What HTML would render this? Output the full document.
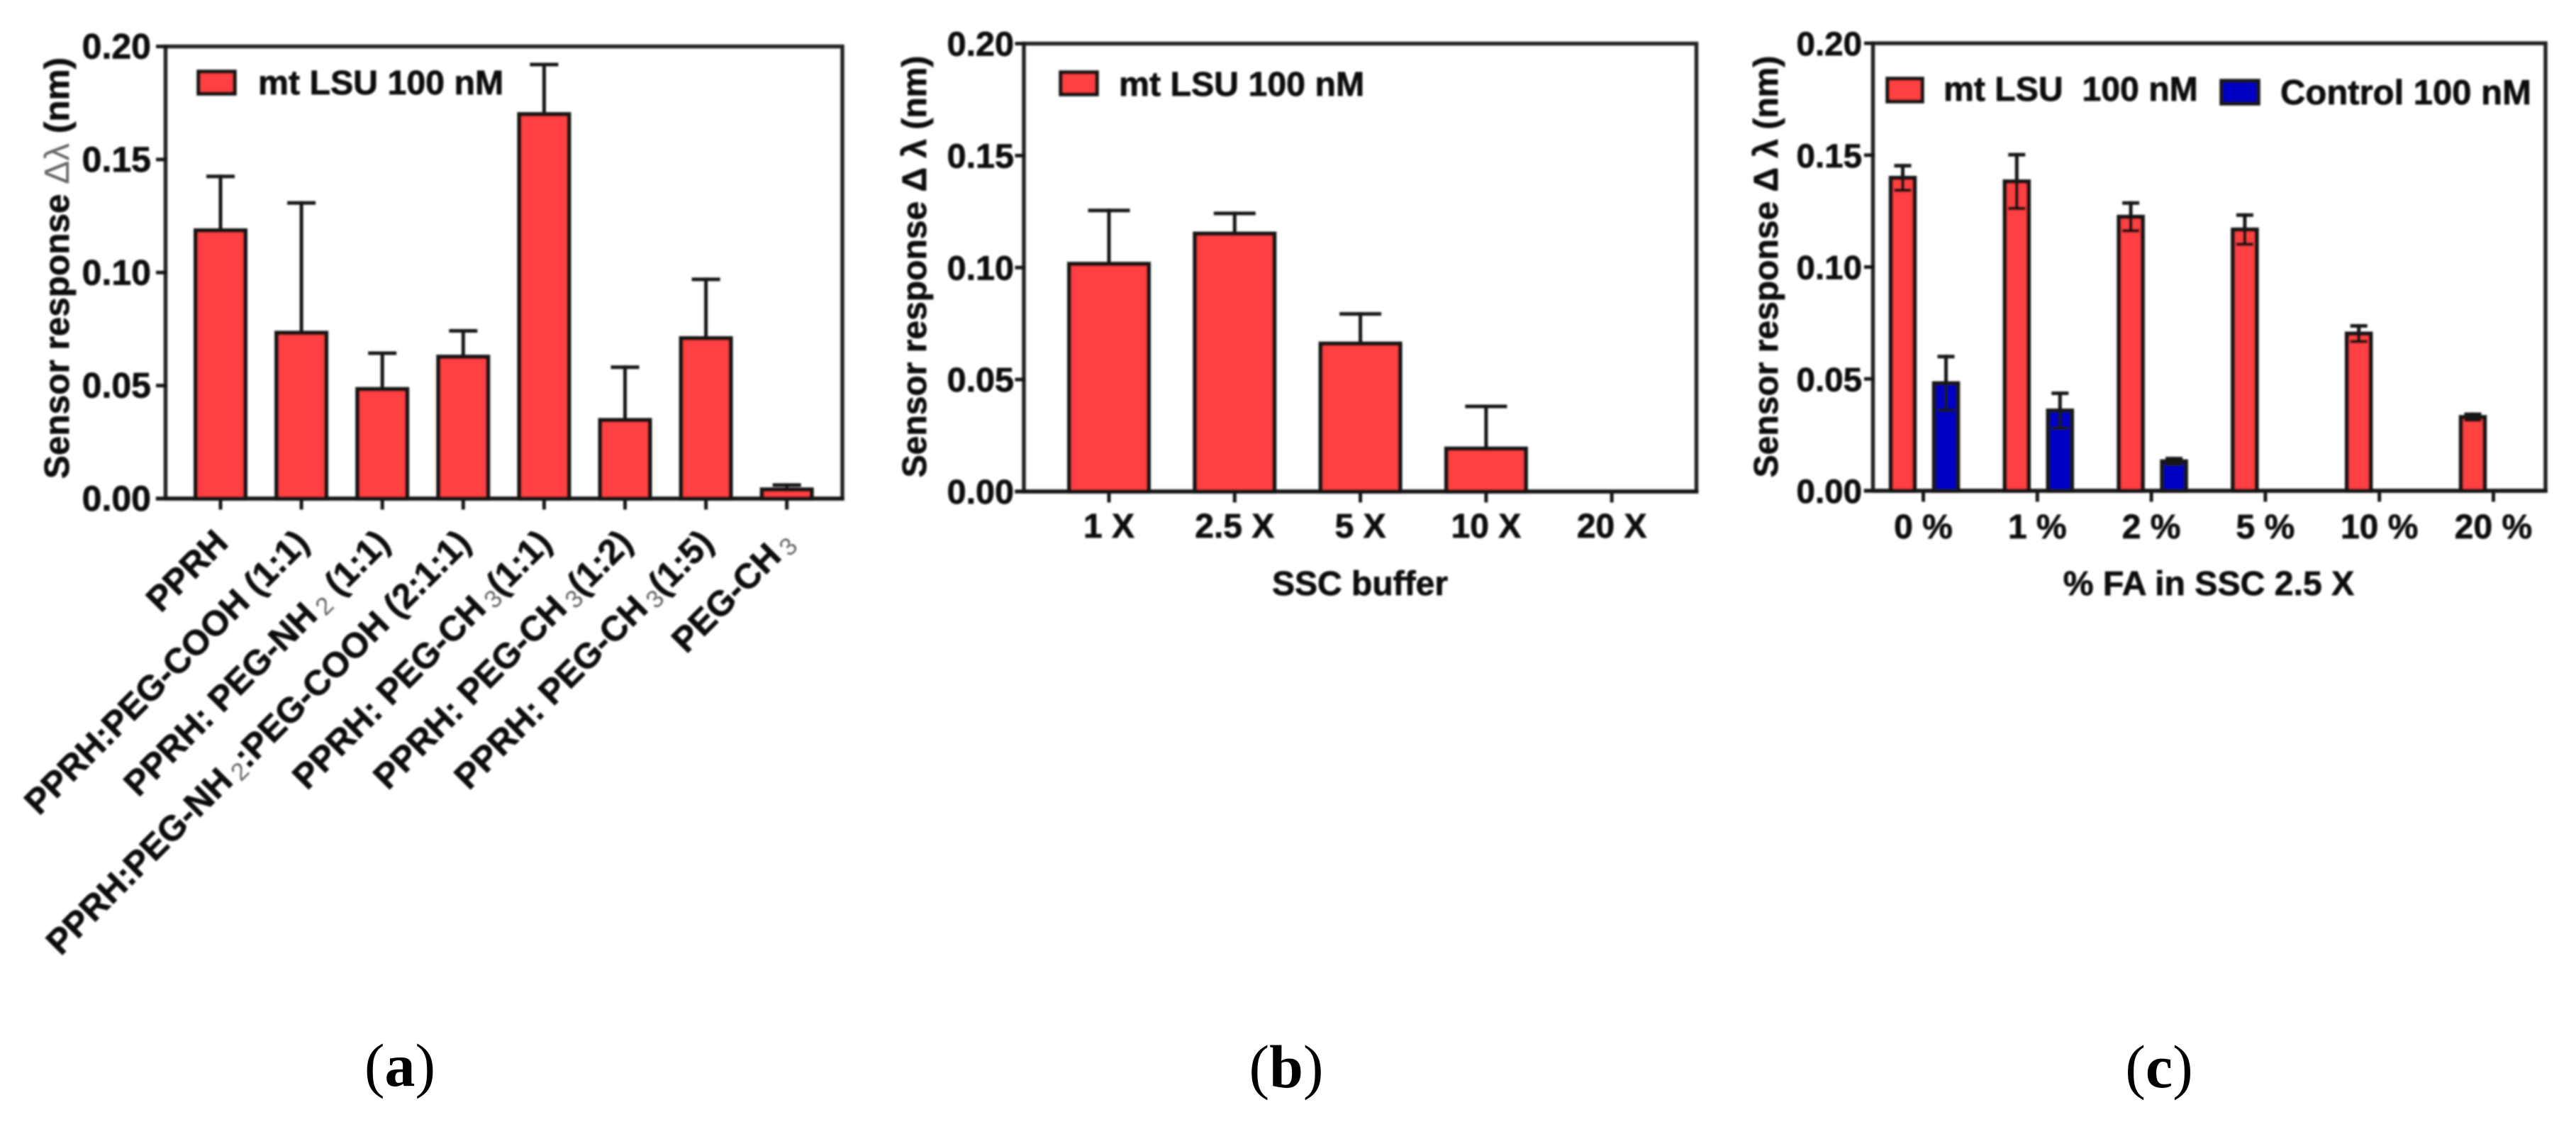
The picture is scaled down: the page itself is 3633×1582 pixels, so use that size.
<!DOCTYPE html>
<html lang="en">
<head>
<meta charset="utf-8">
<title>Sensor response bar charts</title>
<style>
  html, body { margin: 0; padding: 0; background: #fff; }
  svg { display: block; }
  text { font-family: "Liberation Sans", sans-serif; font-weight: bold; fill: #0a0a0a; stroke: #0a0a0a; stroke-width: 0.7px; }
  .panel-label { font-family: "Liberation Serif", serif; font-weight: normal; font-size: 86px; fill: #000; stroke: none; }
</style>
</head>
<body>
<svg id="figure" xmlns="http://www.w3.org/2000/svg" width="3633" height="1582" viewBox="0 0 3633 1582">
  <defs>
    <filter id="soft" filterUnits="userSpaceOnUse" x="0" y="0" width="3633" height="1582">
      <feGaussianBlur stdDeviation="1.2"/>
    </filter>
  </defs>
  <rect x="0" y="0" width="3633" height="1582" fill="#ffffff"/>

  <g id="chart-a" filter="url(#soft)">
    <text transform="translate(97,378) rotate(-90)" text-anchor="middle" font-size="49.5">Sensor response <tspan style="font-weight:normal;fill:#666;stroke:none">Δλ</tspan> (nm)</text>
  </g>
  <g id="chart-b" filter="url(#soft)">
    <text transform="translate(1306,376) rotate(-90)" text-anchor="middle" font-size="48">Sensor response Δ λ (nm)</text>
    <text x="1918" y="839" text-anchor="middle" font-size="48">SSC buffer</text>
  </g>
  <g id="chart-c" filter="url(#soft)">
    <text transform="translate(2507,376) rotate(-90)" text-anchor="middle" font-size="48">Sensor response Δ λ (nm)</text>
    <text x="3115" y="839" text-anchor="middle" font-size="48.2">% FA in SSC 2.5 X</text>
  </g>

  <text class="panel-label" x="564" y="1531" text-anchor="middle">(<tspan style="font-weight:bold">a</tspan>)</text>
  <text class="panel-label" x="1814" y="1533" text-anchor="middle">(<tspan style="font-weight:bold">b</tspan>)</text>
  <text class="panel-label" x="3045" y="1533" text-anchor="middle">(<tspan style="font-weight:bold">c</tspan>)</text>
</svg>

<script>
// ---- chart data ----
const yTickValues = [0, 0.05, 0.10, 0.15, 0.20];
const yTickLabels = ['0.00', '0.05', '0.10', '0.15', '0.20'];

const panelACategories = ['PPRH', 'PPRH:PEG-COOH (1:1)', 'PPRH: PEG-NH_2 (1:1)', 'PPRH:PEG-NH_2:PEG-COOH (2:1:1)', 'PPRH: PEG-CH_3(1:1)', 'PPRH: PEG-CH_3(1:2)', 'PPRH: PEG-CH_3(1:5)', 'PEG-CH_3'];
const panelAValues = [0.1186, 0.0733, 0.0484, 0.0627, 0.1700, 0.0347, 0.0709, 0.0040];
const panelAErrors = [0.0239, 0.0575, 0.0159, 0.0115, 0.0220, 0.0234, 0.0261, 0.0020];

const panelBCategories = ['1 X', '2.5 X', '5 X', '10 X', '20 X'];
const panelBValues = [0.1016, 0.1151, 0.0660, 0.0191, 0];
const panelBErrors = [0.0239, 0.0091, 0.0133, 0.0189, 0];

const panelCCategories = ['0 %', '1 %', '2 %', '5 %', '10 %', '20 %'];
const panelCTargetValues = [0.1398, 0.1382, 0.1224, 0.1167, 0.0702, 0.0329];
const panelCTargetErrors = [0.0055, 0.0120, 0.0062, 0.0065, 0.0035, 0.0013];
const panelCControlValues = [0.0480, 0.0358, 0.0131, 0, 0, 0];
const panelCControlErrors = [0.0120, 0.0078, 0.0013, 0, 0, 0];

const legendTargetLabel = 'mt LSU 100 nM';
const legendTargetLabelC = 'mt LSU\u00a0\u00a0100 nM';
const legendControlLabel = 'Control 100 nM';

// ---- helpers ----
const SVG_NS = 'http://www.w3.org/2000/svg';
const RED = '#ff4042';
const BLUE = '#0000c4';
const INK = '#161616';
const Y_MAX = 0.20;

function make(tag, parent, attrs) {
  const el = document.createElementNS(SVG_NS, tag);
  for (const k in attrs) el.setAttribute(k, attrs[k]);
  parent.appendChild(el);
  return el;
}
function yScale(frame) {
  return v => frame.bottom - (v / Y_MAX) * (frame.bottom - frame.top);
}
function line(parent, x1, y1, x2, y2, width) {
  return make('line', parent, { x1, y1, x2, y2, stroke: INK, 'stroke-width': width, 'stroke-linecap': 'square' });
}

function drawFrame(root, frame, key) {
  const box = make('rect', root, { x: frame.left, y: frame.top, width: frame.right - frame.left, height: frame.bottom - frame.top, fill: 'none', stroke: '#222222', 'stroke-width': 5.5 });
  
  
}

function drawYAxis(root, frame, key, labelRight) {
  const y = yScale(frame);
  yTickValues.forEach((v, i) => {
    const t = line(root, frame.left - frame.tickY, y(v), frame.left, y(v), 5);
    
    
    const label = make('text', root, { x: labelRight, y: y(v) + 17, 'text-anchor': 'end', 'font-size': frame.tickFont });
    label.textContent = yTickLabels[i];
    
    
  });
}

function drawBar(root, frame, cx, width, value, color, name) {
  if (!value) return;
  const y = yScale(frame);
  const bar = make('rect', root, { x: cx - width / 2, y: y(value), width, height: frame.bottom - y(value), fill: color, stroke: INK, 'stroke-width': 6 });
  
  
}

function drawError(root, frame, cx, value, err, capHalf, both, name) {
  if (!value) return;
  const y = yScale(frame);
  const g = make('g', root, {});
  
  
  const lower = both ? value - err : value;
  line(g, cx, y(lower), cx, y(value + err), 5);
  line(g, cx - capHalf, y(value + err), cx + capHalf, y(value + err), 5);
  if (both) line(g, cx - capHalf, y(lower), cx + capHalf, y(lower), 5);
}

function drawLegendEntry(root, key, x, y, w, h, color, tx, ty, label, size) {
  const sw = make('rect', root, { x, y, width: w, height: h, fill: color, stroke: INK, 'stroke-width': 5.5 });
  
  
  const t = make('text', root, { x: tx, y: ty, 'font-size': size });
  t.textContent = label;
  
  
}

// ---- panel a ----
(function () {
  const root = document.getElementById('chart-a');
  const frame = { left: 233.5, right: 1188, top: 65.5, bottom: 703, tickY: 11, tickFont: 50 };
  const step = 114.1, first = 311, w = 70;
  const xOf = i => first + i * step;
  panelACategories.forEach((c, i) => {
    drawBar(root, frame, xOf(i), w, panelAValues[i], RED, 'bar-a-' + (i + 1));
    drawError(root, frame, xOf(i), panelAValues[i], panelAErrors[i], 17.5, false, 'error-bar-a-' + (i + 1));
    const tick = line(root, xOf(i), frame.bottom, xOf(i), frame.bottom + 13, 5);
    
    
    const label = make('text', root, { transform: 'translate(' + (xOf(i) + 13) + ',768) rotate(-45)', 'text-anchor': 'end', 'font-size': 49.5 });
    
    
    c.split(/(_\d)/).forEach(part => {
      if (part.charAt(0) === '_') {
        const sub = make('tspan', label, { dx: 7, dy: 6, 'font-size': 35, style: 'font-weight:normal;fill:#666;stroke:none' });
        sub.textContent = part.charAt(1);
        const reset = make('tspan', label, { dy: -6 });
        reset.textContent = '\u200b';
      } else if (part) {
        const piece = make('tspan', label, {});
        piece.textContent = part;
      }
    });
  });
  drawFrame(root, frame, 'a');
  line(root, frame.left - frame.tickY, frame.bottom, frame.right, frame.bottom, 5.5);
  drawYAxis(root, frame, 'a', 213);
  drawLegendEntry(root, 'a', 280, 101, 51, 31, RED, 364, 133, legendTargetLabel, 48.3);
})();

// ---- panel b ----
(function () {
  const root = document.getElementById('chart-b');
  const frame = { left: 1444, right: 2392.5, top: 61.5, bottom: 693, tickY: 10, tickFont: 48.5 };
  const step = 177.3, first = 1564, w = 112;
  const xOf = i => first + i * step;
  panelBCategories.forEach((c, i) => {
    drawBar(root, frame, xOf(i), w, panelBValues[i], RED, 'bar-b-' + c.replace(/\s/g, ''));
    drawError(root, frame, xOf(i), panelBValues[i], panelBErrors[i], 27, false, 'error-bar-b-' + c.replace(/\s/g, ''));
    const tick = line(root, xOf(i), frame.bottom, xOf(i), frame.bottom + 13, 5);
    
    
    const label = make('text', root, { x: xOf(i), y: 758, 'text-anchor': 'middle', 'font-size': 48 });
    label.textContent = c;
    
    
  });
  drawFrame(root, frame, 'b');
  line(root, frame.left - frame.tickY, frame.bottom, frame.right, frame.bottom, 5.5);
  drawYAxis(root, frame, 'b', 1430);
  drawLegendEntry(root, 'b', 1496, 102, 51, 31, RED, 1578, 135, legendTargetLabel, 48.3);
})();

// ---- panel c ----
(function () {
  const root = document.getElementById('chart-c');
  const frame = { left: 2641.5, right: 3590, top: 61, bottom: 692, tickY: 10, tickFont: 47.5 };
  const step = 160.8, first = 2712.5, w = 33.5, redOffset = -29, blueOffset = 32;
  const xOf = i => first + i * step;
  panelCCategories.forEach((c, i) => {
    const slug = c.replace(/\s|%/g, '');
    drawBar(root, frame, xOf(i) + redOffset, w, panelCTargetValues[i], RED, 'bar-c-target-' + slug);
    drawBar(root, frame, xOf(i) + blueOffset, w, panelCControlValues[i], BLUE, 'bar-c-control-' + slug);
    drawError(root, frame, xOf(i) + redOffset, panelCTargetValues[i], panelCTargetErrors[i], 9.5, true, 'error-bar-c-target-' + slug);
    drawError(root, frame, xOf(i) + blueOffset, panelCControlValues[i], panelCControlErrors[i], 9.5, true, 'error-bar-c-control-' + slug);
    const tick = line(root, xOf(i), frame.bottom, xOf(i), frame.bottom + 13, 5);
    
    
    const label = make('text', root, { x: xOf(i), y: 759, 'text-anchor': 'middle', 'font-size': 48 });
    label.textContent = c;
    
    
  });
  drawFrame(root, frame, 'c');
  line(root, frame.left - frame.tickY, frame.bottom, frame.right, frame.bottom, 5.5);
  drawYAxis(root, frame, 'c', 2626);
  drawLegendEntry(root, 'c-target', 2662, 111, 49, 32, RED, 2741, 142, legendTargetLabelC, 48.2);
  drawLegendEntry(root, 'c-control', 3133, 114, 52, 32, BLUE, 3216, 147, legendControlLabel, 49);
})();
</script>
</body>
</html>
